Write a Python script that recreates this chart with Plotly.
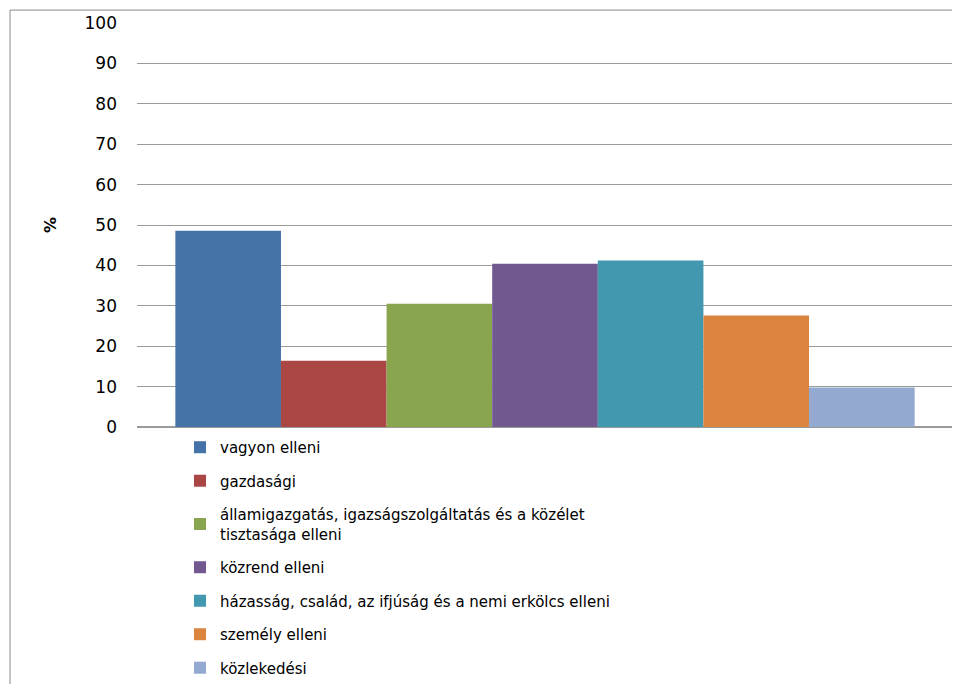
import plotly.graph_objects as go

# offence categories and share (%)
categories = [
    "vagyon elleni",
    "gazdasági",
    "államigazgatás, igazságszolgáltatás és a közélet<br>tisztasága elleni",
    "közrend elleni",
    "házasság, család, az ifjúság és a nemi erkölcs elleni",
    "személy elleni",
    "közlekedési",
]
values = [48.6, 16.4, 30.5, 40.4, 41.2, 27.6, 9.8]
colors = ["#4572A7", "#AA4643", "#89A54E", "#71588F", "#4198AF", "#DB843D", "#93A9CF"]

fig = go.Figure()
for i, (name, val, col) in enumerate(zip(categories, values, colors)):
    fig.add_trace(go.Bar(
        x=[""], y=[val], name=name, marker_color=col,
        marker_line_width=0, legendgroup=str(i),
    ))

# page body adds 8px offset, so the figure is 8px smaller
fig.update_layout(
    width=952, height=676,
    barmode="group", bargap=0.094, bargroupgap=0,
    plot_bgcolor="white", paper_bgcolor="white",
    margin=dict(l=129, r=7, t=15, b=256.5, autoexpand=False),
    font=dict(family="DejaVu Sans", size=15, color="black"),
    showlegend=True,
    legend=dict(
        x=0.0527, xanchor="left",
        yref="container", y=0.3743, yanchor="top",
        orientation="v", tracegroupgap=11,
        font=dict(size=15), itemwidth=30,
    ),
    xaxis=dict(showticklabels=False, showgrid=False, zeroline=False),
    yaxis=dict(
        range=[0, 100], dtick=10, showgrid=True, gridcolor="#9a9a9a",
        gridwidth=1, zeroline=True, zerolinecolor="#9a9a9a",
        tickfont=dict(size=17), ticklabelstandoff=19,
        title=dict(text="<b>%</b>", font=dict(size=16), standoff=23),
    ),
    shapes=[dict(
        type="rect", xref="paper", yref="paper",
        x0=-0.1556, x1=1.05, y0=-1.2, y1=1.032,
        line=dict(color="#8a8a8a", width=1), fillcolor="rgba(0,0,0,0)",
        layer="below",
    )],
)

fig.write_html("out.html")
